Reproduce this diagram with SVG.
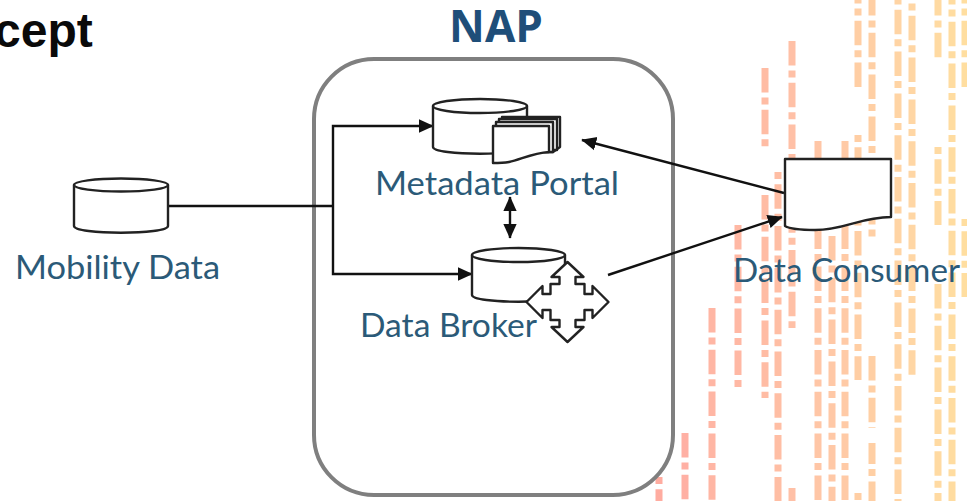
<svg xmlns="http://www.w3.org/2000/svg" width="967" height="501" viewBox="0 0 967 501">
<style>
.bar{fill:none;stroke-width:7;stroke-dasharray:24.5 5 7 5.3}
.s{stroke-dashoffset:29.5}
.ln{fill:none;stroke:#111;stroke-width:2.4}
.arr{marker-end:url(#head)}
.sh{fill:#fff;stroke:#222;stroke-width:2.4;stroke-linejoin:round}
.lab{font-family:Lato,"Open Sans",sans-serif;font-size:32px;fill:#2b5a78}
</style>
<defs>
<marker id="head" viewBox="0 0 10 10" refX="9.5" refY="5" markerWidth="15" markerHeight="15" markerUnits="userSpaceOnUse" orient="auto-start-reverse"><path d="M0 0.5L10 5L0 9.5Z" fill="#111"/></marker>
<filter id="soft" x="-5%" y="-5%" width="110%" height="110%"><feGaussianBlur stdDeviation="0.6"/></filter>
</defs>
<rect width="967" height="501" fill="#fff"/>
<g id="bars" filter="url(#soft)">
<line class="bar s" x1="659" y1="477" x2="659" y2="510" stroke="#ffaca0"/>
<line class="bar" x1="685" y1="433" x2="685" y2="510" stroke="#ffb0a4"/>
<line class="bar" x1="712" y1="308" x2="712" y2="510" stroke="#ffb6a4"/>
<line class="bar" x1="738" y1="225" x2="738" y2="387" stroke="#ffb8a4"/>
<line class="bar" x1="765" y1="68" x2="765" y2="147" stroke="#ffbca4"/>
<line class="bar" x1="765" y1="195" x2="765" y2="398" stroke="#ffbca4"/>
<line class="bar s" x1="778" y1="172" x2="778" y2="510" stroke="#ffbea4"/>
<line class="bar" x1="792" y1="41" x2="792" y2="328" stroke="#ffc0a6"/>
<line class="bar" x1="792" y1="488" x2="792" y2="510" stroke="#ffc0a6"/>
<line class="bar" x1="818" y1="141" x2="818" y2="510" stroke="#ffc6a6"/>
<line class="bar" x1="832" y1="236" x2="832" y2="510" stroke="#ffc8a6"/>
<line class="bar" x1="845" y1="141" x2="845" y2="510" stroke="#ffcaa6"/>
<line class="bar" x1="858" y1="-21" x2="858" y2="88" stroke="#ffcea4"/>
<line class="bar s" x1="858" y1="135" x2="858" y2="380" stroke="#ffcea4"/>
<line class="bar s" x1="858" y1="493" x2="858" y2="510" stroke="#ffcea4"/>
<line class="bar" x1="872" y1="-9" x2="872" y2="237" stroke="#ffcfa4"/>
<line class="bar" x1="872" y1="356" x2="872" y2="510" stroke="#ffcfa4"/>
<line class="bar" x1="898" y1="-32" x2="898" y2="510" stroke="#ffd4a4"/>
<line class="bar" x1="912" y1="-26" x2="912" y2="376" stroke="#ffd6a4"/>
<line class="bar" x1="938" y1="-9" x2="938" y2="58" stroke="#ffdaa2"/>
<line class="bar s" x1="938" y1="147" x2="938" y2="225" stroke="#ffdaa2"/>
<line class="bar" x1="938" y1="284" x2="938" y2="510" stroke="#ffdaa2"/>
<line class="bar" x1="952" y1="-20" x2="952" y2="510" stroke="#ffdca0"/>
<line class="bar" x1="965" y1="-21" x2="965" y2="88" stroke="#ffdea0"/>
<line class="bar s" x1="965" y1="219" x2="965" y2="297" stroke="#ffdea0"/>
<rect x="849" y="428" width="34" height="15" fill="#fff"/>
</g>
<g id="title">
<text x="-6" y="47" font-family="Liberation Sans,Arial,sans-serif" font-size="48" font-weight="700" fill="#0a0a0a">cept</text>
</g>
<g id="nap">
<rect x="314" y="59" width="359" height="436" rx="60" ry="60" fill="#fff" stroke="#7f7f7f" stroke-width="4"/>
<text x="496" y="42" text-anchor="middle" font-family="Open Sans,Noto Sans,sans-serif" font-size="44" font-weight="700" fill="#1f4e79">NAP</text>
</g>
<g id="connectors">
<path class="ln" d="M168 206H333"/>
<path class="ln arr" d="M333 206V126H433"/>
<path class="ln arr" d="M333 206V274H472"/>
<path class="ln arr" d="M784 193L582 140"/>
<path class="ln arr" d="M608 275L782 217"/>
<path class="ln" d="M510 197V238" marker-start="url(#head)" marker-end="url(#head)"/>
</g>
<g id="mobility-data">
<path class="sh" d="M74 185V226C74 235 168 235 168 226V185Z"/>
<ellipse class="sh" cx="121" cy="185" rx="47" ry="6.5"/>
<text class="lab" x="15" y="279" textLength="205" lengthAdjust="spacingAndGlyphs">Mobility Data</text>
</g>
<g id="metadata-portal">
<path class="sh" d="M433 106V147C433 156 527 156 527 147V106Z"/>
<ellipse class="sh" cx="480" cy="106" rx="47" ry="7"/>
<path class="sh" d="M502 117H560V147L553 152H502Z"/>
<path class="sh" d="M499 119H557V150H499Z"/>
<path class="sh" d="M496 122H553V152H496Z"/>
<path class="sh" d="M493 126H549V152C532 153 520 160 509 162C503 163 497 163 493 163Z"/>
<text class="lab" x="375" y="195" textLength="244" lengthAdjust="spacingAndGlyphs">Metadata Portal</text>
</g>
<g id="data-broker">
<path class="sh" d="M472 255V295C472 304 565 304 565 295V255Z"/>
<ellipse class="sh" cx="518.500" cy="255" rx="46.500" ry="7"/>
<path class="sh" transform="translate(567.500 302)" d="M0 -40L16 -25H8V-18H17V-8H25V-16L41 0L25 16V8H17V18H8V25H16L0 40L-16 25H-8V18H-17V8H-25V16L-41 0L-25 -16V-8H-17V-18H-8V-25H-16Z"/>
<text class="lab" x="360" y="337" textLength="177" lengthAdjust="spacingAndGlyphs">Data Broker</text>
</g>
<g id="data-consumer">
<path class="sh" d="M785 159H891V217C860 217 845 230 815 230C800 230 790 229 785 226Z"/>
<text class="lab" x="733" y="282" textLength="227" lengthAdjust="spacingAndGlyphs">Data Consumer</text>
</g>
</svg>
